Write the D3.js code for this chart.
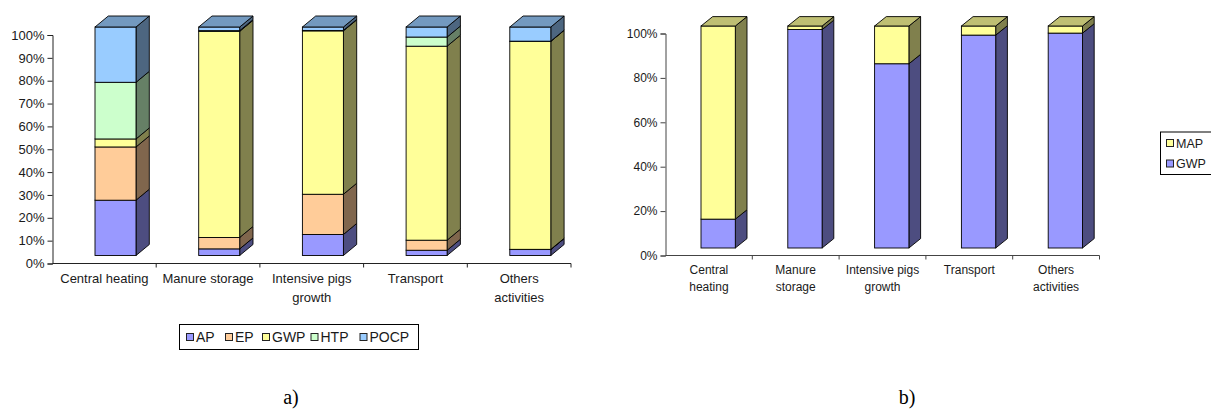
<!DOCTYPE html>
<html>
<head>
<meta charset="utf-8">
<script src="https://cdn.jsdelivr.net/npm/d3@7"></script>
<style>
  body { margin: 0; background: #fff; }
  svg { display: block; font-family: Arial, 'Liberation Sans', sans-serif; }
</style>
</head>
<body>
<div id="chart"></div>
<script>
const categories = ['Central heating', 'Manure storage', 'Intensive pigs growth', 'Transport', 'Others activities'];
const labelsA = [['Central heating'], ['Manure storage'], ['Intensive pigs', 'growth'], ['Transport'], ['Others', 'activities']];
const labelsB = [['Central', 'heating'], ['Manure', 'storage'], ['Intensive pigs', 'growth'], ['Transport'], ['Others', 'activities']];

// chart a) shares, %
const ap = [24.2, 2.9, 9.2, 2.3, 2.6];
const ep = [23.3, 5.0, 17.6, 4.4, 0.1];
const gwp = [3.5, 90.2, 71.5, 84.9, 91.0];
const htp = [24.8, 0.3, 0.2, 4.0, 0.1];
const pocp = [24.2, 1.6, 1.5, 4.4, 6.2];

// chart b) shares, %
const gwpB = [13.0, 98.4, 83.0, 95.9, 96.8];
const mapB = [87.0, 1.6, 17.0, 4.1, 3.2];

const ticksA = [0, 0.1, 0.2, 0.3, 0.4, 0.5, 0.6, 0.7, 0.8, 0.9, 1];
const ticksB = [0, 0.2, 0.4, 0.6, 0.8, 1];

const width = 1211;
const height = 409;

const svg = d3.select('#chart').append('svg')
  .attr('width', width)
  .attr('height', height);

function shade(c, k) {
  const r = d3.rgb(c);
  return d3.rgb(r.r * k, r.g * k, r.b * k).formatHex();
}

function drawChart(cfg) {
  const table = categories.map((c, i) => {
    const row = { cat: c };
    cfg.series.forEach(s => { row[s.key] = s.values[i]; });
    return row;
  });
  const stacked = d3.stack()
    .keys(cfg.series.map(s => s.key))
    .offset(d3.stackOffsetExpand)(table);

  const x = d3.scaleBand().domain(categories).range([cfg.left, cfg.right]);
  const y = d3.scaleLinear().domain([0, 1]).range([cfg.bottom, cfg.top]);

  const g = svg.append('g');

  // value axis
  const yAxis = g.append('g')
    .attr('transform', `translate(${cfg.left},0)`)
    .call(d3.axisLeft(y).tickValues(cfg.ticks).tickFormat(d3.format('.0%')).tickSizeOuter(0).tickSize(5).tickPadding(3));
  yAxis.select('.domain').attr('stroke', cfg.axisColor);
  yAxis.selectAll('.tick line').attr('stroke', cfg.axisColor);
  yAxis.selectAll('text').attr('font-size', cfg.fontSize).attr('fill', '#1a1a1a').attr('font-family', 'Arial, Liberation Sans');

  // category axis
  const xAxis = g.append('g')
    .attr('transform', `translate(0,${cfg.bottom})`);
  xAxis.append('line')
    .attr('x1', cfg.left).attr('x2', cfg.right)
    .attr('stroke', cfg.axisColor);
  xAxis.selectAll('.sep')
    .data(categories)
    .enter().append('line')
    .attr('x1', d => x(d) + x.bandwidth())
    .attr('x2', d => x(d) + x.bandwidth())
    .attr('y1', 0).attr('y2', 4)
    .attr('stroke', cfg.axisColor);

  const lab = g.append('g');
  cfg.labels.forEach((lines, i) => {
    const t = lab.append('text')
      .attr('x', x(categories[i]) + x.bandwidth() / 2)
      .attr('y', cfg.labelY)
      .attr('text-anchor', 'middle')
      .attr('font-size', cfg.fontSize)
      .attr('fill', '#1a1a1a');
    lines.forEach((l, j) => {
      t.append('tspan')
        .attr('x', x(categories[i]) + x.bandwidth() / 2)
        .attr('dy', j === 0 ? 0 : cfg.lineH)
        .text(l);
    });
  });

  // bars
  const dx = cfg.depthX;
  const dy = cfg.depthY;
  const bars = g.append('g').attr('transform', `translate(0,${-cfg.lift})`);
  categories.forEach((c, i) => {
    const bx0 = x(c) + cfg.barOffset;
    const bx1 = bx0 + cfg.barWidth;
    const bar = bars.append('g');
    stacked.forEach((layer, k) => {
      const d = layer[i];
      const color = cfg.series[k].color;
      const yb = y(d[0]);
      const yt = y(d[1]);
      bar.append('path')
        .attr('d', `M${bx1},${yb}L${bx1 + dx},${yb + dy}L${bx1 + dx},${yt + dy}L${bx1},${yt}Z`)
        .attr('fill', shade(color, 0.5))
        .attr('stroke', '#000')
        .attr('stroke-width', 0.9)
        .attr('stroke-linejoin', 'round');
      bar.append('rect')
        .attr('x', bx0)
        .attr('y', yt)
        .attr('width', cfg.barWidth)
        .attr('height', Math.max(0, yb - yt))
        .attr('fill', color)
        .attr('stroke', '#000')
        .attr('stroke-width', 0.9);
    });
    const topLayer = stacked[stacked.length - 1][i];
    const yt = y(topLayer[1]);
    bar.append('path')
      .attr('d', `M${bx0},${yt}L${bx0 + dx},${yt + dy}L${bx1 + dx},${yt + dy}L${bx1},${yt}Z`)
      .attr('fill', shade(cfg.series[cfg.series.length - 1].color, 0.75))
      .attr('stroke', '#000')
      .attr('stroke-width', 0.9)
      .attr('stroke-linejoin', 'round');
  });
}

const colAP = '#9999ff';
const colEP = '#ffcc99';
const colGWP = '#ffff99';
const colHTP = '#ccffcc';
const colPOCP = '#99ccff';

drawChart({
  series: [
    { key: 'AP', values: ap, color: colAP },
    { key: 'EP', values: ep, color: colEP },
    { key: 'GWP', values: gwp, color: colGWP },
    { key: 'HTP', values: htp, color: colHTP },
    { key: 'POCP', values: pocp, color: colPOCP }
  ],
  labels: labelsA,
  ticks: ticksA,
  left: 52.5, right: 571, bottom: 263.5, top: 35,
  lift: 8, barOffset: 42.5, barWidth: 41, depthX: 13.3, depthY: -11,
  fontSize: 13, labelY: 283, lineH: 19, axisColor: '#222'
});

drawChart({
  series: [
    { key: 'GWP', values: gwpB, color: colAP },
    { key: 'MAP', values: mapB, color: colGWP }
  ],
  labels: labelsB,
  ticks: ticksB,
  left: 665.5, right: 1099.5, bottom: 255.5, top: 33.5,
  lift: 7.5, barOffset: 35.5, barWidth: 34.3, depthX: 11.7, depthY: -9.4,
  fontSize: 12, labelY: 273.5, lineH: 17.5, axisColor: '#444'
});

// legends
function legend(x0, y0, w, h, items, fontSize, vertical, rowH) {
  const lg = svg.append('g');
  lg.append('rect')
    .attr('x', x0 + 0.5).attr('y', y0 + 0.5)
    .attr('width', w).attr('height', h)
    .attr('fill', '#fff').attr('stroke', '#000');
  items.forEach((it, i) => {
    const cx = vertical ? x0 + 6 : it.x;
    const cy = vertical ? y0 + 11.5 + i * rowH : y0 + h / 2 + 0.5;
    lg.append('rect')
      .attr('x', cx + 0.5).attr('y', cy - 3.5)
      .attr('width', 7).attr('height', 7)
      .attr('fill', it.color).attr('stroke', '#222');
    lg.append('text')
      .attr('x', cx + 10)
      .attr('y', cy + fontSize * 0.36)
      .attr('font-size', fontSize)
      .attr('fill', '#1a1a1a')
      .text(it.name);
  });
}

legend(179, 324, 239, 25, [
  { name: 'AP', color: colAP, x: 186 },
  { name: 'EP', color: colEP, x: 225 },
  { name: 'GWP', color: colGWP, x: 262 },
  { name: 'HTP', color: colHTP, x: 310.5 },
  { name: 'POCP', color: colPOCP, x: 359.5 }
], 14, false, 0);

legend(1160, 131.5, 60, 42.5, [
  { name: 'MAP', color: colGWP },
  { name: 'GWP', color: colAP }
], 12.5, true, 20.5);

svg.append('text')
  .attr('x', 291).attr('y', 404)
  .attr('text-anchor', 'middle')
  .attr('font-family', "'Liberation Serif', 'Times New Roman', serif")
  .attr('font-size', 20)
  .text('a)');

svg.append('text')
  .attr('x', 907).attr('y', 404)
  .attr('text-anchor', 'middle')
  .attr('font-family', "'Liberation Serif', 'Times New Roman', serif")
  .attr('font-size', 20)
  .text('b)');
</script>
</body>
</html>
